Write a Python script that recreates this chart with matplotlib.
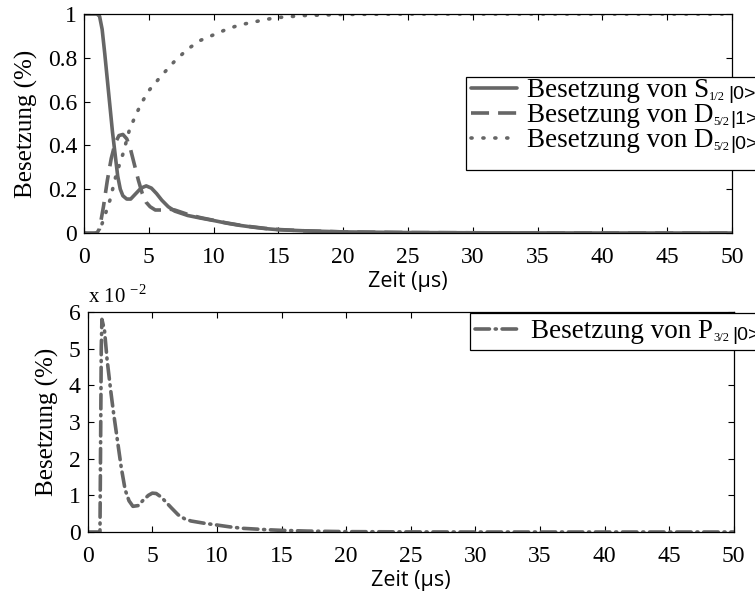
import numpy as np
import matplotlib.pyplot as plt
from matplotlib.patches import Rectangle

plt.rcParams['font.family'] = ['Liberation Serif', 'DejaVu Serif']
plt.rcParams['mathtext.fontset'] = 'custom'
plt.rcParams['mathtext.rm'] = 'Liberation Serif'
plt.rcParams['axes.linewidth'] = 0.9

# --- data (time in microseconds) ---
t_s = [0, 0.5, 1.0, 1.2, 1.4, 1.6, 1.8, 2.0, 2.2, 2.4, 2.6, 2.8, 3.0, 3.3,
       3.6, 4.0, 4.4, 4.8, 5.2, 5.6, 6.0, 6.5, 7.0, 7.5, 8, 9, 10, 11, 12,
       13, 14, 15, 17, 20, 25, 30, 40, 50]
s12_0 = [1, 1, 1, 0.99, 0.93, 0.82, 0.70, 0.58, 0.46, 0.36, 0.26, 0.20,
         0.17, 0.155, 0.155, 0.18, 0.205, 0.215, 0.205, 0.18, 0.15, 0.12,
         0.10, 0.09, 0.08, 0.068, 0.057, 0.045, 0.035, 0.027, 0.02, 0.015,
         0.01, 0.005, 0.002, 0.001, 0, 0]

t_d1 = [0, 1.0, 1.2, 1.5, 1.8, 2.1, 2.4, 2.7, 3.0, 3.3, 3.6, 3.9, 4.2,
        4.5, 4.8, 5.1, 5.5, 6.0, 6.5, 7.0, 7.5, 8, 9, 10, 11, 12, 13, 14,
        15, 17, 20, 25, 30, 40, 50]
d52_1 = [0, 0, 0.02, 0.12, 0.24, 0.34, 0.41, 0.445, 0.45, 0.43, 0.38,
         0.31, 0.24, 0.18, 0.14, 0.12, 0.105, 0.105, 0.11, 0.105, 0.095,
         0.085, 0.07, 0.058, 0.046, 0.036, 0.028, 0.021, 0.016, 0.01,
         0.005, 0.002, 0.001, 0, 0]

t_d0 = [0, 1.0, 1.2, 1.5, 2, 2.5, 3, 3.5, 4, 4.5, 5, 6, 7, 8, 9, 10, 11,
        12, 13, 14, 15, 17, 20, 25, 30, 40, 50]
d52_0 = [0, 0, 0.01, 0.06, 0.15, 0.27, 0.36, 0.47, 0.54, 0.60, 0.65, 0.72,
         0.785, 0.84, 0.88, 0.905, 0.93, 0.95, 0.962, 0.975, 0.984, 0.993,
         0.998, 1, 1, 1, 1]

t_p = [0, 0.95, 1.0, 1.05, 1.1, 1.3, 1.5, 1.8, 2.0, 2.3, 2.6, 2.9, 3.2,
       3.5, 3.9, 4.3, 4.7, 5.0, 5.3, 5.7, 6.1, 6.5, 7.0, 7.5, 8.0, 9.0,
       10, 11, 12, 13, 14, 15, 17, 20, 25, 30, 40, 50]
p32_0 = [0, 0, 2.5, 5.0, 5.8, 5.5, 4.7, 3.8, 3.25, 2.5, 1.75, 1.15, 0.85,
         0.70, 0.72, 0.87, 1.0, 1.06, 1.05, 0.95, 0.8, 0.65, 0.47, 0.36,
         0.30, 0.24, 0.19, 0.14, 0.10, 0.08, 0.06, 0.045, 0.025, 0.01,
         0.003, 0, 0, 0]

# legend labels: main part, subscript, state (gap before the state in pt)
top_names = ['Besetzung von S', 'Besetzung von D', 'Besetzung von D']
top_subs = ['1/2', '5/2', '5/2']
top_kets = ['|0>', '|1>', '|0>']
top_gaps = [2.0, 0.5, 0.5]
bottom_name, bottom_sub, bottom_ket = 'Besetzung von P', '3/2', '|0>'

gray = '#666666'
lw = 2.6
tick_fs = 17
leg_fs = 19.5
xlabel_font = dict(family='Open Sans', size=15.5)

fig = plt.figure(figsize=(7.55, 6.01), dpi=100)
ax1 = fig.add_axes([84 / 755, 1 - 233 / 601, 648 / 755, 219 / 601])
ax2 = fig.add_axes([87.7 / 755, 1 - 532 / 601, 646 / 755, 220 / 601])

ax1.plot(t_s, s12_0, color=gray, lw=lw, solid_capstyle='round',
         solid_joinstyle='round', label=top_names[0])
ax1.plot(t_d1, d52_1, color=gray, lw=lw, linestyle=(0, (5, 2.5)),
         label=top_names[1])
ax1.plot(t_d0, d52_0, color=gray, lw=lw, linestyle=(0, (0.3, 3.0)),
         dash_capstyle='round', label=top_names[2])

ax2.plot(t_p, p32_0, color=gray, lw=lw,
         linestyle=(0, (4, 1.6, 0.3, 1.6)), dash_capstyle='round',
         label=bottom_name)

for ax, ymax, yticks in [(ax1, 1, [0, 0.2, 0.4, 0.6, 0.8, 1]),
                         (ax2, 6, [0, 1, 2, 3, 4, 5, 6])]:
    ax.set_xlim(0, 50)
    ax.set_ylim(0, ymax)
    ax.set_xticks(np.arange(0, 51, 5))
    ax.set_yticks(yticks)
    ax.tick_params(direction='in', length=4, width=0.8, top=True,
                   right=True, labelsize=tick_fs, pad=5)
    ax.tick_params(axis='x', pad=10)
    ax.set_ylabel('Besetzung (%)', fontsize=18, labelpad=7)
    ax.set_xlabel('Zeit (\u00b5s)', fontdict=xlabel_font, labelpad=2)

ax1.set_yticklabels(['0', '0.2', '0.4', '0.6', '0.8', '1'])

ax2.text(0.0, 1.02, r'x 10 $^{\mathregular{-2}}$', transform=ax2.transAxes,
         fontsize=15, ha='left', va='bottom')

leg_style = dict(bbox_transform=fig.transFigure, loc='upper left',
                 fontsize=leg_fs, frameon=False, borderaxespad=0,
                 handlelength=1.7, handletextpad=0.36, borderpad=0.2,
                 labelspacing=0.0)


def legend_box(ax, x0, y0, y1):
    # white legend frame that runs past the right edge, like the original
    ax.add_patch(Rectangle((x0 / 755, 1 - y1 / 601), 0.5, (y1 - y0) / 601,
                           transform=fig.transFigure, facecolor='white',
                           edgecolor='black', lw=0.9, clip_on=False,
                           zorder=4))


def add_suffix(ax, txt, sub, ket, gap):
    s = ax.annotate(sub, xy=(1, 0), xycoords=txt, xytext=(0, 0),
                    textcoords='offset points', fontsize=9, ha='left',
                    va='bottom', zorder=7, annotation_clip=False)
    ax.annotate(ket, xy=(1, 0), xycoords=(s, txt), xytext=(gap, 0),
                textcoords='offset points', family='Liberation Sans',
                fontsize=14, ha='left', va='bottom', zorder=8,
                annotation_clip=False)


legend_box(ax1, 466, 77, 170)
leg1 = ax1.legend(bbox_to_anchor=(466 / 755, 1 - 73 / 601), **leg_style)
leg1.set_zorder(6)
for txt, sub, ket, gap in zip(leg1.get_texts(), top_subs, top_kets,
                              top_gaps):
    add_suffix(ax1, txt, sub, ket, gap)

legend_box(ax2, 470, 313, 350)
leg2 = ax2.legend(bbox_to_anchor=(470 / 755, 1 - 314 / 601), **leg_style)
leg2.set_zorder(6)
add_suffix(ax2, leg2.get_texts()[0], bottom_sub, bottom_ket, 2.0)

fig.savefig('out.png', dpi=100)
